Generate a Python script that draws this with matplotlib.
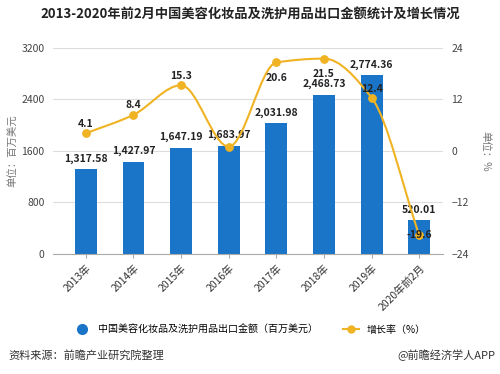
import matplotlib.pyplot as plt
import numpy as np
from matplotlib.path import Path
from matplotlib.patches import PathPatch
from matplotlib.lines import Line2D

plt.rcParams['font.family'] = ['Noto Sans CJK SC', 'DejaVu Sans']

years = ['2013年', '2014年', '2015年', '2016年', '2017年', '2018年', '2019年', '2020年前2月']
amount = [1317.58, 1427.97, 1647.19, 1683.97, 2031.98, 2468.73, 2774.36, 520.01]
growth = [4.1, 8.4, 15.3, 1.0, 20.6, 21.5, 12.4, -19.6]
growth_labels = ['4.1', '8.4', '15.3', '', '20.6', '21.5', '12.4', '-19.6']
growth_offset = [7, 7, 7, 0, -11, -11, 6, 0]  # points

bar_color = '#1a74c8'
line_color = '#f0b323'

fig = plt.figure(figsize=(5, 3.74), dpi=100)
ax = fig.add_axes([0.106, 0.321, 0.78, 0.551])
x = np.arange(len(years))

ax.bar(x, amount, width=0.46, color=bar_color, zorder=2)
ax.set_xlim(-0.69, 7.5)
ax.set_ylim(0, 3200)
ax.set_yticks([0, 800, 1600, 2400, 3200])
ax.grid(axis='y', color='#dddddd', lw=0.8, zorder=0)
for s in ['top', 'right', 'left']:
    ax.spines[s].set_visible(False)
ax.spines['bottom'].set_color('#aaaaaa')
ax.tick_params(axis='y', length=0, labelsize=7.5, labelcolor='#444444', pad=6)
ax.tick_params(axis='x', length=3, color='#aaaaaa', labelsize=7.5, labelcolor='#333333')
ax.set_xticks(x)
ax.set_xticklabels(years, rotation=45, ha='right', rotation_mode='anchor')
ax.set_ylabel('单位：百万美元', fontsize=7.5, color='#777777')
ax.yaxis.set_label_coords(-0.09, 0.5)

for xi, v in zip(x, amount):
    ax.annotate(f'{v:,.2f}', (xi, v), xytext=(0, 4), textcoords='offset points',
                ha='center', va='bottom', fontsize=7.5, fontweight='bold', color='#222222', zorder=5)

ax2 = ax.twinx()
ax2.set_ylim(-24, 24)
ax2.set_yticks([-24, -12, 0, 12, 24])
for s in ax2.spines.values():
    s.set_visible(False)
ax2.tick_params(axis='y', length=0, labelsize=7.5, labelcolor='#444444', pad=6)
ax2.set_ylabel('单位：%', fontsize=7.5, color='#777777', rotation=270, va='center')
ax2.yaxis.set_label_coords(1.108, 0.5)

# monotone cubic curve through the points, drawn as Bezier segments
g = np.array(growth, dtype=float)
d = np.diff(g)
m = np.zeros_like(g)
m[0], m[-1] = d[0], d[-1]
for i in range(1, len(g) - 1):
    if d[i - 1] * d[i] > 0:
        m[i] = 2 / (1 / d[i - 1] + 1 / d[i])
verts = [(x[0], g[0])]
codes = [Path.MOVETO]
for i in range(len(g) - 1):
    verts += [(x[i] + 1 / 3, g[i] + m[i] / 3), (x[i + 1] - 1 / 3, g[i + 1] - m[i + 1] / 3), (x[i + 1], g[i + 1])]
    codes += [Path.CURVE4] * 3
ax2.add_patch(PathPatch(Path(verts, codes), fill=False, edgecolor=line_color, lw=1.5, zorder=3))
ax2.scatter(x, growth, s=28, color=line_color, zorder=4)
for xi, gv, lab, off in zip(x, growth, growth_labels, growth_offset):
    if lab:
        ax2.annotate(lab, (xi, gv), xytext=(0, off), textcoords='offset points',
                     ha='center', va='center', fontsize=7.5, fontweight='bold', color='#222222', zorder=6)

fig.text(0.5, 0.962, '2013-2020年前2月中国美容化妆品及洗护用品出口金额统计及增长情况',
         ha='center', va='center', fontsize=9.5, fontweight='bold', color='#222222')

handles = [Line2D([], [], marker='o', ls='none', color=bar_color, markersize=7),
           Line2D([], [], marker='o', color=line_color, lw=1.5, markersize=5)]
fig.legend(handles, ['中国美容化妆品及洗护用品出口金额（百万美元）', '增长率（%）'],
           loc='center', bbox_to_anchor=(0.5, 0.118), ncol=2, frameon=False,
           fontsize=7.2, handlelength=1.6, columnspacing=2.5)

fig.text(0.016, 0.05, '资料来源：前瞻产业研究院整理', ha='left', va='center', fontsize=8, color='#333333')
fig.text(0.99, 0.05, '@前瞻经济学人APP', ha='right', va='center', fontsize=8, color='#333333')

fig.savefig('out.png', dpi=100)
